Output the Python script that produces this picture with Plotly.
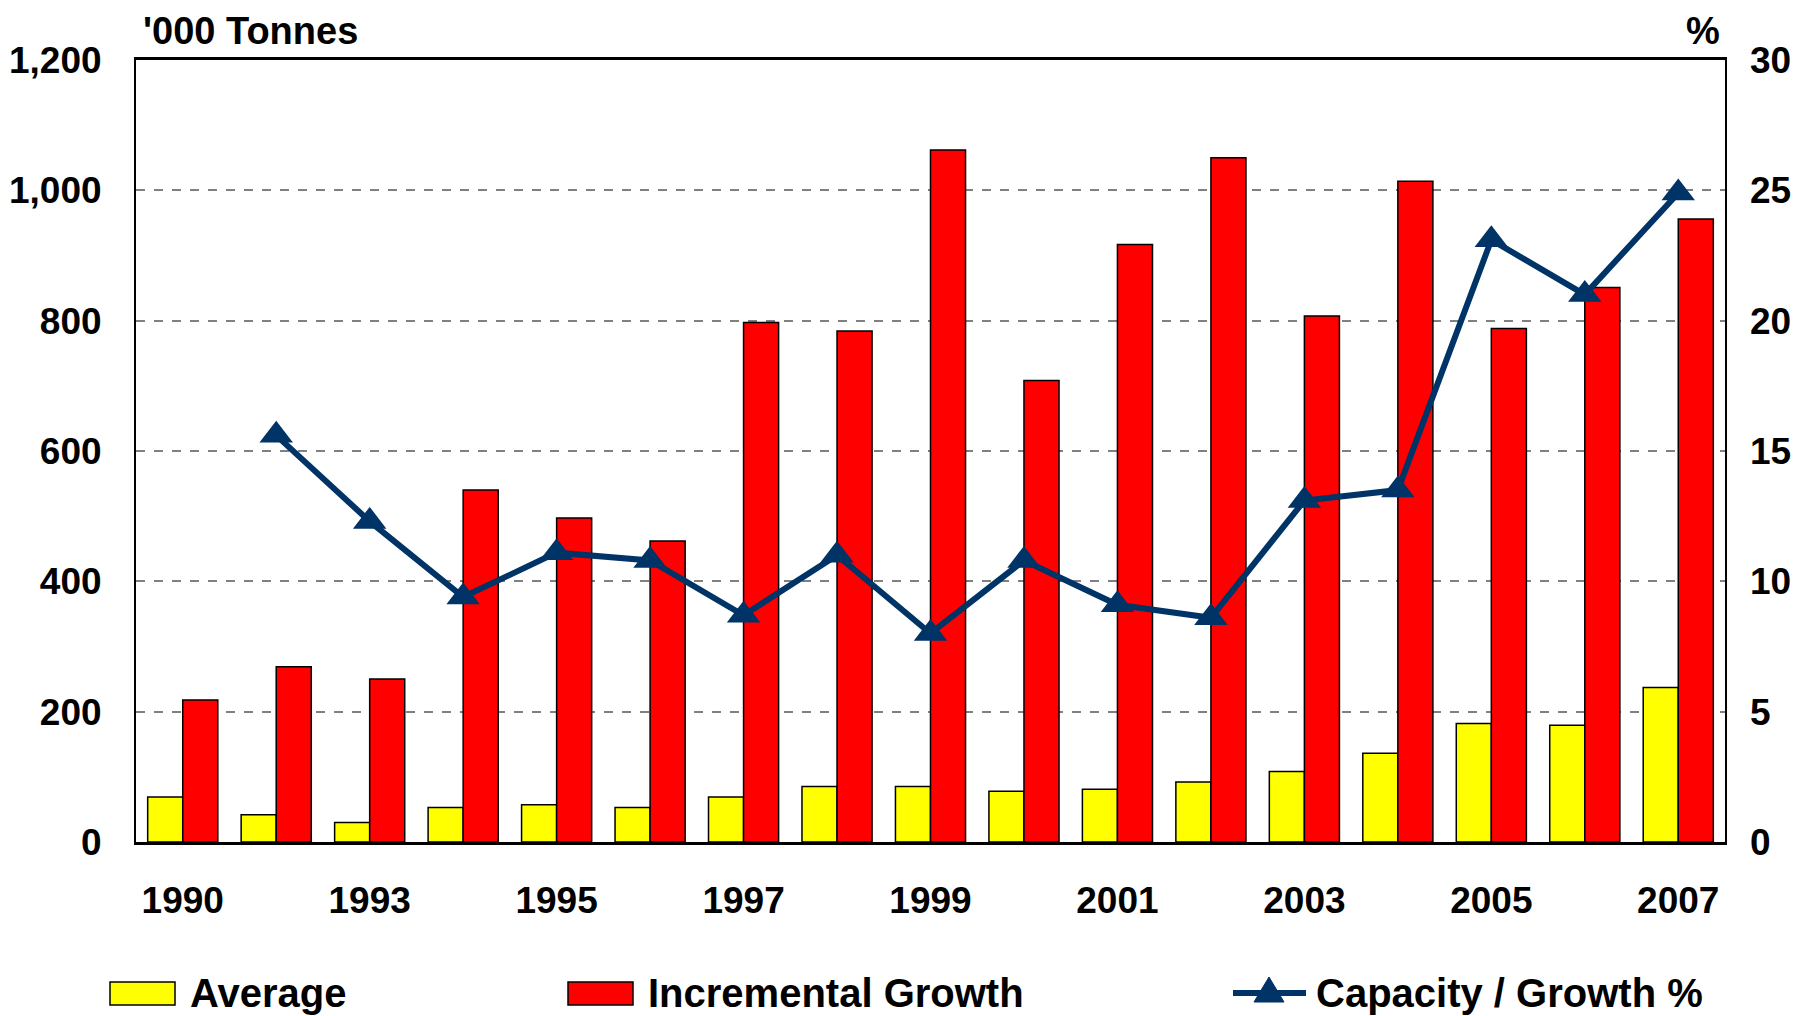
import plotly.graph_objects as go

# Data
years = ["1990", "1992", "1993", "1994", "1995", "1996", "1997", "1998", "1999",
         "2000", "2001", "2002", "2003", "2004", "2005", "2006", "2007"]
average = [69, 42, 30, 53, 57, 53, 69, 85, 85, 78, 81, 92, 108, 136, 182, 179, 237]
incremental = [218, 269, 250, 540, 497, 462, 797, 784, 1062, 708, 917, 1050, 807,
               1014, 788, 851, 956]
growth_pct = [None, 15.6, 12.3, 9.4, 11.1, 10.8, 8.7, 11.0, 8.0, 10.8, 9.1, 8.6,
              13.1, 13.5, 23.1, 21.0, 24.9]
tick_years = ["1990", "1993", "1995", "1997", "1999", "2001", "2003", "2005", "2007"]

# page has an 8px body margin, so the figure is drawn 8px in from the corner
OFF = 8
W, H = 1809 - 2 * OFF, 1016 - OFF
L, R, T, B = 136 - OFF, 1725 - OFF, 60 - OFF, 842 - OFF
FONT = "Liberation Sans"
NAVY = "#003366"


def px_x(x):
    # page pixel -> paper fraction
    return (x - OFF - L) / (R - L)


def px_y(y):
    return (B - (y - OFF)) / (B - T)


fig = go.Figure()
fig.add_trace(go.Bar(x=years, y=average, name="Average",
                     marker=dict(color="#FFFF00", line=dict(color="black", width=1.5))))
fig.add_trace(go.Bar(x=years, y=incremental, name="Incremental Growth",
                     marker=dict(color="#FF0000", line=dict(color="black", width=1.5))))
fig.add_trace(go.Scatter(x=years, y=growth_pct, name="Capacity / Growth %", yaxis="y2",
                         mode="lines+markers", line=dict(color=NAVY, width=6),
                         marker=dict(symbol="triangle-up", size=29, color=NAVY)))

fig.update_layout(
    width=W, height=H,
    margin=dict(l=L, r=W - R, t=T, b=H - B),
    paper_bgcolor="white", plot_bgcolor="white",
    font=dict(family=FONT, size=37, color="black", weight="bold"),
    barmode="group", bargap=0.25, bargroupgap=0,
    showlegend=False,
)
fig.update_xaxes(type="category", categoryorder="array", categoryarray=years,
                 range=[-0.5, len(years) - 0.5],
                 tickmode="array", tickvals=tick_years, ticktext=tick_years,
                 showline=True, linecolor="black", linewidth=3, mirror=True,
                 showgrid=False, ticks="", ticklabelstandoff=24, automargin=False)
fig.update_yaxes(range=[0, 1200], dtick=200, tickformat=",d",
                 showline=True, linecolor="black", linewidth=2, mirror=True,
                 showgrid=True, gridcolor="#808080", griddash="dash", gridwidth=1.5,
                 zeroline=False, ticks="", ticklabelstandoff=25, automargin=False)
fig.update_layout(yaxis2=dict(overlaying="y", side="right", range=[0, 30], dtick=5,
                              showgrid=False, zeroline=False, ticks="",
                              ticklabelstandoff=24, automargin=False))

# axis unit labels
for x, anchor, label in [(141, "left", "'000 Tonnes"), (1722, "right", "%")]:
    fig.add_annotation(text=label, xref="paper", yref="paper", x=px_x(x), y=px_y(31),
                       xanchor=anchor, yanchor="middle", showarrow=False,
                       font=dict(size=38))

# legend drawn by hand to match the wide swatches
ly0, ly1, lyc = 982, 1005, 993
for x0, x1, col in [(110, 175, "#FFFF00"), (568, 633, "#FF0000")]:
    fig.add_shape(type="rect", xref="paper", yref="paper",
                  x0=px_x(x0), x1=px_x(x1), y0=px_y(ly1), y1=px_y(ly0),
                  fillcolor=col, line=dict(color="black", width=1.5))
fig.add_shape(type="line", xref="paper", yref="paper",
              x0=px_x(1233), x1=px_x(1306), y0=px_y(lyc), y1=px_y(lyc),
              line=dict(color=NAVY, width=6))
tx, tw, th = 1269, 15, 25
fig.add_shape(type="path", xref="paper", yref="paper",
              path=(f"M {px_x(tx - tw)},{px_y(lyc + 9)} L {px_x(tx + tw)},{px_y(lyc + 9)} "
                    f"L {px_x(tx)},{px_y(lyc + 9 - th)} Z"),
              fillcolor=NAVY, line=dict(color=NAVY, width=1))
for x, label in [(188, "Average"), (646, "Incremental Growth"), (1314, "Capacity / Growth %")]:
    fig.add_annotation(text=label, xref="paper", yref="paper", x=px_x(x), y=px_y(lyc),
                       xanchor="left", yanchor="middle", showarrow=False, font=dict(size=40))

fig.write_html("out.html")
